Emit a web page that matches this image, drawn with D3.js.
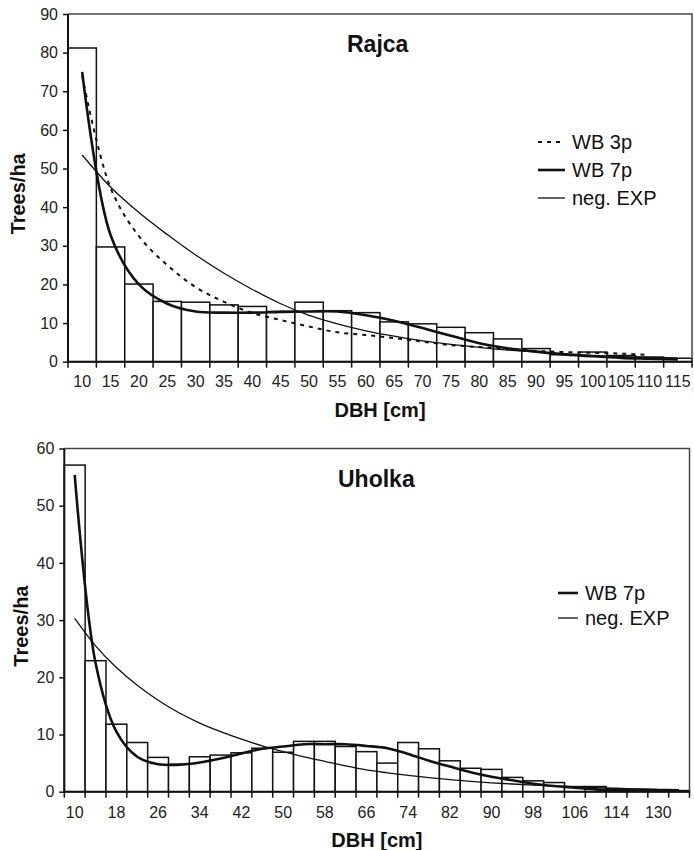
<!DOCTYPE html>
<html>
  <head>
    <meta charset="UTF-8">
    <style>
      body {
        margin: 0;
        background: #fff;
        font-family: "Liberation Sans", Arial, sans-serif;
      }
      .tick text {
        font-size: 16px;
        fill: #222;
      }
      .axis-title {
        font-size: 20px;
        font-weight: bold;
        fill: #111;
      }
      .chart-title {
        font-size: 23px;
        font-weight: bold;
        fill: #111;
      }
      .legend text {
        font-size: 20px;
        fill: #111;
      }
    </style>
    <script src="https://d3js.org/d3.v7.min.js"></script>
  </head>

  <body>
    <svg id="chart"></svg>

    <script type="text/javascript">
      // Rajca: DBH classes and trees/ha
      let rajcaDbh = ['10','15','20','25','30','35','40','45','50','55','60',
        '65','70','75','80','85','90','95','100','105','110','115']
      let rajcaObserved = [81.2, 29.7, 20.1, 15.6, 15.4, 14.7, 14.3, 13.0, 15.4, 13.2, 12.7,
        10.3, 9.8, 8.9, 7.5, 5.9, 3.4, 1.8, 2.5, 1.6, 1.2, 0.9]
      let rajcaWb3p = [74, 45, 32.5, 25, 19.3, 15.5, 12.6, 10.8, 9.1, 7.6, 6.9,
        6.1, 5.2, 4.3, 3.8, 3.3, 2.8, 2.5, 2.3, 2.1, 1.7]
      let rajcaWb7p = [75, 32.8, 20, 15, 13, 12.7, 12.7, 12.9, 13, 13, 12.0,
        10.6, 8.7, 6.7, 4.8, 3.5, 2.6, 1.9, 1.4, 1.0, 0.8, 0.6]
      let rajcaNegExp = [53.5, 45.2, 38.6, 32.9, 27.6, 22.9, 18.7, 15.0, 12.0, 9.8, 8.0,
        6.6, 5.4, 4.5, 3.7, 3.0, 2.5, 2.0, 1.6, 1.3, 1.1, 0.9]
      let rajcaYTicks = [0, 10, 20, 30, 40, 50, 60, 70, 80, 90]

      // Uholka
      let uholkaDbh = ['10','14','18','22','26','30','34','38','42','46','50','54','58','62',
        '66','70','74','78','82','86','90','94','98','102','106','110','114','122','130','138']
      let uholkaObserved = [57.1, 22.9, 11.8, 8.6, 6.0, 4.8, 6.1, 6.4, 6.8, 7.6, 6.9, 8.8, 8.8, 7.9,
        7.0, 5.0, 8.6, 7.5, 5.4, 4.1, 3.9, 2.5, 1.9, 1.6, 0.9, 0.9, 0.5, 0.4, 0.3, 0.2]
      let uholkaWb7p = [55.4, 22.5, 10.5, 6.1, 4.8, 4.7, 5.1, 5.8, 6.7, 7.5, 7.9, 8.3, 8.3, 8.3,
        8.0, 7.6, 6.6, 5.4, 4.4, 3.4, 2.6, 2.0, 1.4, 1.0, 0.7, 0.4, 0.3, 0.25, 0.2, 0.15]
      let uholkaNegExp = [30.3, 25.5, 21.7, 18.6, 16.0, 13.8, 12.0, 10.5, 9.2, 8.0, 7.0, 6.1, 5.3, 4.5,
        3.8, 3.3, 2.85, 2.45, 2.1, 1.8, 1.55, 1.35, 1.15, 1.0, 0.85, 0.72, 0.6, 0.5, 0.42, 0.35]
      let uholkaYTicks = [0, 10, 20, 30, 40, 50, 60]

      let lineStyles = {
        'WB 3p': {width: 2, dash: '4,5'},
        'WB 7p': {width: 2.6, dash: null},
        'neg. EXP': {width: 1.3, dash: null}
      }

      let svg = d3.select('#chart')
        .attr('width', 694)
        .attr('height', 850)

      function getScales(cats, yMax, box) {
        let xScale = d3.scaleBand()
          .domain(cats)
          .range([box.left, box.right])
          .padding(0)
        let yScale = d3.scaleLinear()
          .domain([0, yMax])
          .range([box.bottom, box.top])
        return {xScale, yScale}
      }

      function drawBars(g, cats, values, scales) {
        let {xScale, yScale} = scales
        g.append('g').selectAll('rect')
          .data(values)
          .enter()
          .append('rect')
          .attr('x', (d, i) => xScale(cats[i]))
          .attr('y', d => yScale(d))
          .attr('width', xScale.bandwidth())
          .attr('height', d => yScale(0) - yScale(d))
          .attr('fill', '#fff')
          .attr('stroke', '#111')
          .attr('stroke-width', 1.5)
      }

      function drawLine(g, cats, values, name, scales) {
        let {xScale, yScale} = scales
        let style = lineStyles[name]
        let line = d3.line()
          .x((d, i) => xScale(cats[i]) + xScale.bandwidth() / 2)
          .y(d => yScale(d))
          .curve(d3.curveCatmullRom.alpha(0.5))
        g.append('path')
          .datum(values)
          .attr('d', line)
          .attr('fill', 'none')
          .attr('stroke', '#111')
          .attr('stroke-width', style.width)
          .attr('stroke-dasharray', style.dash)
      }

      function drawAxes(g, cats, yTicks, scales, box, everyOther) {
        let {xScale, yScale} = scales

        // frame on top and right
        g.append('path')
          .attr('d', `M${box.left},${box.top}H${box.right}V${box.bottom}`)
          .attr('fill', 'none')
          .attr('stroke', '#444')
          .attr('stroke-width', 1.5)

        let axisX = d3.axisBottom(xScale)
          .tickSize(0)
          .tickFormat((d, i) => (everyOther && i % 2) ? '' : d)
        let gx = g.append('g')
          .attr('transform', `translate(0, ${box.bottom})`)
          .call(axisX)
        gx.select('.domain').remove()
        gx.selectAll('text').attr('y', box.labelOffset).attr('dy', 0).attr('font-family', null)

        // tick marks on category boundaries
        let bounds = cats.map(c => xScale(c)).concat([xScale.range()[1]])
        g.append('g').selectAll('line')
          .data(bounds)
          .enter()
          .append('line')
          .attr('x1', d => d).attr('x2', d => d)
          .attr('y1', box.bottom).attr('y2', box.bottom + 6)
          .attr('stroke', '#111')
          .attr('stroke-width', 1.5)

        g.append('line')
          .attr('x1', box.left).attr('x2', box.right)
          .attr('y1', box.bottom).attr('y2', box.bottom)
          .attr('stroke', '#111')
          .attr('stroke-width', 2)

        let axisY = d3.axisLeft(yScale)
          .tickValues(yTicks)
          .tickSize(5)
          .tickPadding(5)
        let gy = g.append('g')
          .attr('transform', `translate(${box.left}, 0)`)
          .call(axisY)
        gy.select('.domain').remove()
        gy.selectAll('.tick line').attr('stroke', '#111').attr('stroke-width', 1.5)
        gy.selectAll('text').attr('font-family', null)
        g.append('line')
          .attr('x1', box.left).attr('x2', box.left)
          .attr('y1', box.top).attr('y2', box.bottom)
          .attr('stroke', '#111')
          .attr('stroke-width', 2)
      }

      function drawTitles(g, box, title) {
        g.append('text')
          .attr('class', 'chart-title')
          .attr('x', box.titleX)
          .attr('y', box.titleY)
          .text(title)

        g.append('text')
          .attr('class', 'axis-title')
          .attr('text-anchor', 'middle')
          .attr('x', (box.left + box.right) / 2)
          .attr('y', box.bottom + 55)
          .text('DBH [cm]')

        g.append('text')
          .attr('class', 'axis-title')
          .attr('text-anchor', 'middle')
          .attr('transform', `translate(${box.yTitleX}, ${(box.top + box.bottom) / 2 + 6}) rotate(-90)`)
          .text('Trees/ha')
      }

      function drawLegend(g, names, box) {
        let legend = g.selectAll('.legend')
          .data(names)
          .enter()
          .append('g')
          .attr('class', 'legend')
          .attr('transform', (d, i) => `translate(${box.legendX}, ${box.legendY + i * box.legendStep})`)

        legend.append('line')
          .attr('x1', 0).attr('x2', box.legendLen)
          .attr('y1', 0).attr('y2', 0)
          .attr('stroke', '#111')
          .attr('stroke-width', d => lineStyles[d].width)
          .attr('stroke-dasharray', d => lineStyles[d].dash)

        legend.append('text')
          .attr('x', box.legendLen + 7)
          .attr('y', 7)
          .text(d => d)
      }

      function drawChart(cfg) {
        let g = svg.append('g')
        let scales = getScales(cfg.cats, cfg.yMax, cfg.box)
        drawBars(g, cfg.cats, cfg.observed, scales)
        cfg.series.forEach(s => drawLine(g, cfg.cats, s.values, s.name, scales))
        drawAxes(g, cfg.cats, cfg.yTicks, scales, cfg.box, cfg.everyOther)
        drawTitles(g, cfg.box, cfg.title)
        drawLegend(g, cfg.series.map(s => s.name), cfg.box)
      }

      drawChart({
        title: 'Rajca',
        cats: rajcaDbh,
        observed: rajcaObserved,
        yMax: 90,
        yTicks: rajcaYTicks,
        everyOther: false,
        series: [
          {name: 'WB 3p', values: rajcaWb3p},
          {name: 'WB 7p', values: rajcaWb7p},
          {name: 'neg. EXP', values: rajcaNegExp}
        ],
        box: {left: 68, right: 692, top: 14, bottom: 361.7, labelOffset: 25,
          titleX: 347, titleY: 52, yTitleX: 25,
          legendX: 538, legendY: 142, legendStep: 28, legendLen: 27}
      })

      drawChart({
        title: 'Uholka',
        cats: uholkaDbh,
        observed: uholkaObserved,
        yMax: 60,
        yTicks: uholkaYTicks,
        everyOther: true,
        series: [
          {name: 'WB 7p', values: uholkaWb7p},
          {name: 'neg. EXP', values: uholkaNegExp}
        ],
        box: {left: 64.3, right: 689.5, top: 448.5, bottom: 791.7, labelOffset: 26,
          titleX: 338, titleY: 487, yTitleX: 28,
          legendX: 558, legendY: 593, legendStep: 25, legendLen: 20}
      })
    </script>
  </body>
</html>
